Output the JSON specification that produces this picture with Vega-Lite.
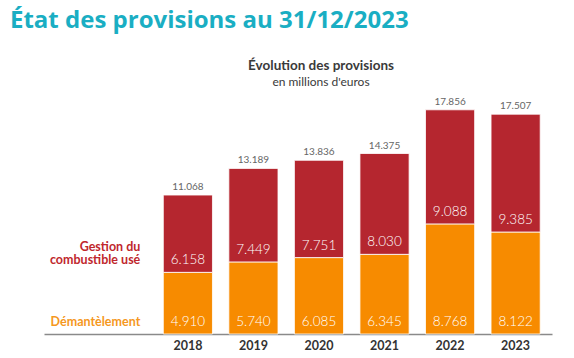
{
  "$schema": "https://vega.github.io/schema/vega-lite/v6.json",
  "padding": {"left": 10, "top": 9, "right": 5, "bottom": 5},
  "background": "white",
  "config": {
    "view": {"stroke": null},
    "locale": {"number": {"decimal": ",", "thousands": ".", "grouping": [3], "currency": ["", " €"]}},
    "font": "Lato"
  },
  "title": {
    "text": "État des provisions au 31/12/2023",
    "anchor": "start",
    "dx": -34,
    "font": "Open Sans",
    "fontSize": 24,
    "fontWeight": "bold",
    "color": "#1AAEC3",
    "offset": 26
  },
  "vconcat": [
    {
      "width": 508,
      "height": 226,
      "title": {
        "text": "Évolution des provisions",
        "subtitle": "en millions d'euros",
        "anchor": "middle",
        "frame": "group",
        "dx": 23,
        "font": "Lato",
        "fontSize": 13.5,
        "fontWeight": "bold",
        "color": "#3a3a3a",
        "subtitleFont": "Lato",
        "subtitleFontSize": 12,
        "subtitleColor": "#3a3a3a",
        "subtitlePadding": 4,
        "offset": 9
      },
      "data": {
        "values": [
          {"year": "2018", "serie": "Démantèlement", "order": 1, "value": 4910},
          {"year": "2018", "serie": "Gestion du\ncombustible usé", "order": 2, "value": 6158},
          {"year": "2019", "serie": "Démantèlement", "order": 1, "value": 5740},
          {"year": "2019", "serie": "Gestion du\ncombustible usé", "order": 2, "value": 7449},
          {"year": "2020", "serie": "Démantèlement", "order": 1, "value": 6085},
          {"year": "2020", "serie": "Gestion du\ncombustible usé", "order": 2, "value": 7751},
          {"year": "2021", "serie": "Démantèlement", "order": 1, "value": 6345},
          {"year": "2021", "serie": "Gestion du\ncombustible usé", "order": 2, "value": 8030},
          {"year": "2022", "serie": "Démantèlement", "order": 1, "value": 8768},
          {"year": "2022", "serie": "Gestion du\ncombustible usé", "order": 2, "value": 9088},
          {"year": "2023", "serie": "Démantèlement", "order": 1, "value": 8122},
          {"year": "2023", "serie": "Gestion du\ncombustible usé", "order": 2, "value": 9385}
        ]
      },
      "transform": [
        {"stack": "value", "groupby": ["year"], "sort": [{"field": "order", "order": "ascending"}], "as": ["v0", "v1"]}
      ],
      "encoding": {
        "x": {
          "field": "year",
          "type": "ordinal",
          "scale": {"paddingInner": 0.25, "paddingOuter": 1.02, "align": 0.91},
          "axis": {
            "title": null,
            "labelAngle": 0,
            "ticks": false,
            "domainColor": "#8a8a8a",
            "domainWidth": 1.5,
            "labelFont": "Lato",
            "labelFontSize": 12.5,
            "labelFontWeight": "bold",
            "labelColor": "#333333",
            "labelPadding": 5
          }
        }
      },
      "layer": [
        {
          "mark": {"type": "bar", "stroke": "#ffffff", "strokeWidth": 1, "strokeOpacity": 0.8},
          "encoding": {
            "y": {"field": "v1", "type": "quantitative", "scale": {"domain": [0, 18000]}, "axis": null},
            "y2": {"field": "v0"},
            "color": {
              "field": "serie",
              "type": "nominal",
              "scale": {"domain": ["Démantèlement", "Gestion du\ncombustible usé"], "range": ["#F78B00", "#B5262F"]},
              "legend": null
            }
          }
        },
        {
          "mark": {"type": "text", "baseline": "middle", "dy": -12, "color": "#ffffff", "font": "Lato", "fontSize": 13.5, "fontWeight": 300},
          "encoding": {
            "y": {"field": "v0", "type": "quantitative"},
            "text": {"field": "value", "type": "quantitative", "format": ",d"}
          }
        },
        {
          "transform": [{"aggregate": [{"op": "sum", "field": "value", "as": "total"}], "groupby": ["year"]}],
          "mark": {"type": "text", "baseline": "middle", "dy": -8, "color": "#666666", "font": "Lato", "fontSize": 10},
          "encoding": {
            "y": {"field": "total", "type": "quantitative"},
            "text": {"field": "total", "type": "quantitative", "format": ",d"}
          }
        },
        {
          "transform": [{"filter": "datum.year === '2018' && datum.order === 1"}],
          "mark": {"type": "text", "baseline": "middle", "align": "right", "dx": -23, "dy": -12, "color": "#F5981E", "font": "Lato", "fontSize": 12.5, "fontWeight": "bold"},
          "encoding": {
            "x": {"field": "year", "type": "ordinal", "bandPosition": 0},
            "y": {"field": "v0", "type": "quantitative"},
            "text": {"field": "serie"}
          }
        },
        {
          "transform": [{"filter": "datum.year === '2018' && datum.order === 2"}],
          "mark": {"type": "text", "baseline": "middle", "align": "right", "dx": -23, "dy": -25, "lineBreak": "\n", "lineHeight": 13, "color": "#C0272D", "font": "Lato", "fontSize": 12.5, "fontWeight": "bold"},
          "encoding": {
            "x": {"field": "year", "type": "ordinal", "bandPosition": 0},
            "y": {"field": "v0", "type": "quantitative"},
            "text": {"field": "serie"}
          }
        }
      ]
    }
  ]
}
